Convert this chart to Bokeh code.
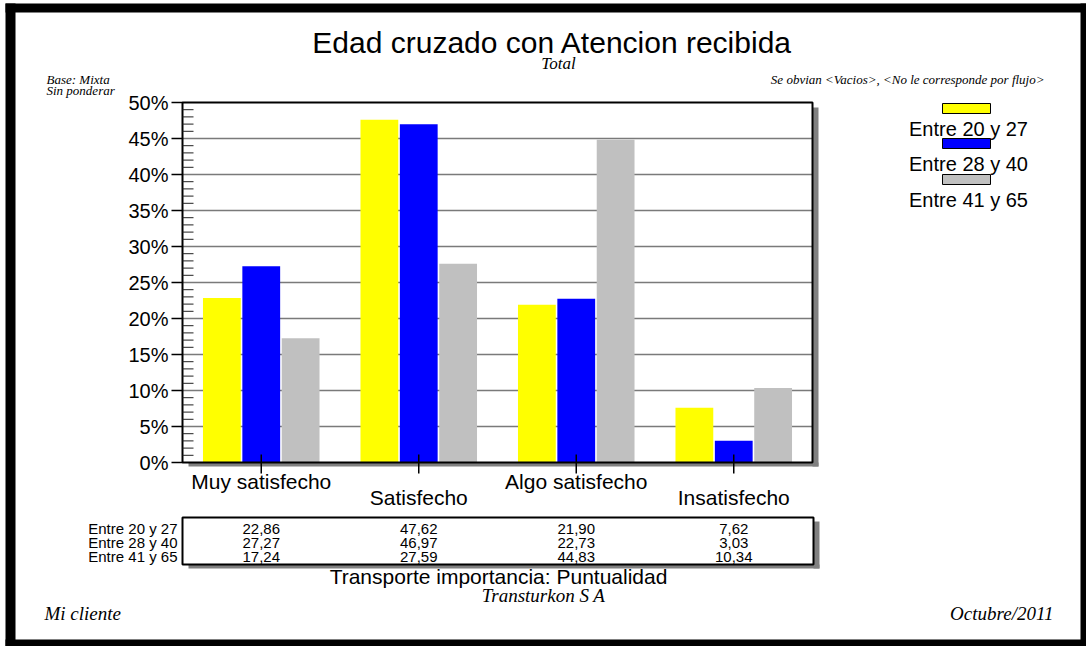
from bokeh.plotting import figure
from bokeh.models import ColumnDataSource, Range1d
from bokeh.core.properties import value
from bokeh.embed import file_html
from bokeh.resources import INLINE

# --- data -------------------------------------------------------------
categories = ["Muy satisfecho", "Satisfecho", "Algo satisfecho", "Insatisfecho"]
series = ["Entre 20 y 27", "Entre 28 y 40", "Entre 41 y 65"]
entre_20_27 = [22.86, 47.62, 21.90, 7.62]
entre_28_40 = [27.27, 46.97, 22.73, 3.03]
entre_41_65 = [17.24, 27.59, 44.83, 10.34]
values = [entre_20_27, entre_28_40, entre_41_65]
y_ticks = [0, 5, 10, 15, 20, 25, 30, 35, 40, 45, 50]
colors = ["#ffff00", "#0000ff", "#c0c0c0"]

# --- page geometry (pixels from the top-left corner of the page) -------
W, H = 1086, 646
FL, FR, FT, FB = 182, 812, 102, 462          # plotting area
Y_MAX = 50
STEP = (FR - FL) / len(categories)            # pixels per category
PX = (FB - FT) / Y_MAX                        # pixels per percent

SANS = "Liberation Sans"
SERIF = "Liberation Serif"

centers = [i + 0.5 for i in range(len(categories))]

# The page is one frame in pixel coordinates (y pointing down); the chart
# uses its own category / percent scales mapped onto the plotting area.
p = figure(width=W, height=H, x_range=Range1d(0, W), y_range=Range1d(H, 0),
           output_backend="svg", toolbar_location=None, min_border=0,
           x_axis_location=None, y_axis_location=None)
p.grid.visible = False
p.outline_line_color = None
p.background_fill_color = "white"
p.border_fill_color = "white"
p.extra_x_ranges = {"cat": Range1d(-FL / STEP, (W - FL) / STEP)}
p.extra_y_ranges = {"pct": Range1d(-(H - FB) / PX, FB / PX)}


def box(l, r, t, b, fill, line=None, lw=1):
    p.quad(left=l, right=r, top=t, bottom=b, fill_color=fill,
           line_color=line, line_width=lw)


def label(x, y, text, size, font=SANS, style="normal", align="center",
          xr="default", yr="default"):
    p.text(x=x, y=y, text=[text] if isinstance(text, str) else text,
           x_range_name=xr, y_range_name=yr,
           text_font=value(font), text_font_size=value(size),
           text_font_style=style, text_align=align,
           text_baseline="middle", text_color="black")


# outer black frame
box(5, 15, 3, 646, "black")
box(5, 1086, 3, 12, "black")
box(1080, 1086, 3, 646, "black")
box(5, 1086, 639, 646, "black")

# drop shadow of the plotting area
box(FR, FR + 6, FT + 5, FB + 4, "#808080")
box(FL + 6, FR + 6, FB, FB + 4, "#808080")

# ---------------- chart ----------------
n = len(categories)
# horizontal grid lines every 5 %
inner = y_ticks[1:-1]
p.segment(x0=[0] * len(inner), x1=[n] * len(inner), y0=inner, y1=inner,
          x_range_name="cat", y_range_name="pct",
          line_color="#7a7a7a", line_width=1.6)

# grouped bars
offsets = [-0.25, 0.0, 0.25]
for k, name in enumerate(series):
    src = ColumnDataSource(dict(x=[c + offsets[k] for c in centers], top=values[k]))
    p.vbar(x="x", top="top", width=0.24, bottom=0, source=src,
           x_range_name="cat", y_range_name="pct",
           fill_color=colors[k], line_color=None)

# plotting-area border
p.quad(left=[0], right=[n], bottom=[0], top=[Y_MAX],
       x_range_name="cat", y_range_name="pct",
       fill_color=None, line_color="black", line_width=2)

# y axis: outer major ticks with labels, inner minor ticks every 1 %
p.segment(x0=[FL - 11] * len(y_ticks), x1=[FL] * len(y_ticks),
          y0=y_ticks, y1=y_ticks, y_range_name="pct",
          line_color="black", line_width=1.5)
minor = [v for v in range(1, Y_MAX) if v % 5]
p.segment(x0=[FL] * len(minor), x1=[FL + 11] * len(minor),
          y0=minor, y1=minor, y_range_name="pct",
          line_color="#222222", line_width=1)
label([FL - 14] * len(y_ticks), y_ticks, [f"{t}%" for t in y_ticks], "20px",
      align="right", yr="pct")

# x axis: one tick mark across the baseline at each category centre
p.segment(x0=centers, x1=centers, y0=[FB - 8] * n, y1=[FB + 11] * n,
          x_range_name="cat", line_color="black", line_width=1.5)

# staggered category labels under the chart
label(centers, [481 if i % 2 == 0 else 497 for i in range(n)],
      categories, "21px", xr="cat")

# ---------------- titles and notes ----------------
label([552], [42], "Edad cruzado con Atencion recibida", "30px")
label([558], [63], "Total", "17px", SERIF, "italic")
label([46], [79], "Base: Mixta", "13px", SERIF, "italic", "left")
label([46], [90], "Sin ponderar", "13px", SERIF, "italic", "left")
label([1044], [79], "Se obvian <Vacios>, <No le corresponde por flujo>", "13px",
      SERIF, "italic", "right")

# legend: swatch above each series name
sw_top = [103, 138, 174]
for k, name in enumerate(series):
    box(942, 990, sw_top[k], sw_top[k] + 10, colors[k], "black", 1)
    label([968], [sw_top[k] + 25], name, "20px")

# data table under the chart
TL, TR, TT, TB = 182, 813, 517, 564
box(TR, TR + 6, TT + 4, TB + 4, "#808080")
box(TL + 6, TR + 6, TB, TB + 4, "#808080")
box(TL, TR, TT, TB, "white", "black", 2)
row_y = [528, 542, 556]
for k, name in enumerate(series):
    label([177], [row_y[k]], name, "15px", align="right")
    label(centers, [row_y[k]] * n,
          [f"{v:.2f}".replace(".", ",") for v in values[k]], "15px", xr="cat")

# footer
label([498], [576], "Transporte importancia: Puntualidad", "21px")
label([543], [595], "Transturkon S A", "19px", SERIF, "italic")
label([44], [613], "Mi cliente", "19px", SERIF, "italic", "left")
label([1053], [613], "Octubre/2011", "19px", SERIF, "italic", "right")

open("out.html", "w").write(file_html(p, INLINE))
